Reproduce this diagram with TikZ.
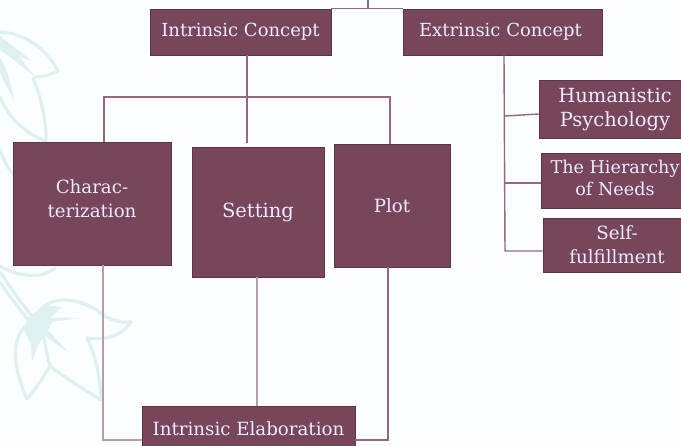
\documentclass[tikz,border=0pt]{standalone}
\usepackage{fontspec}
\setmainfont{DejaVu Serif}
\definecolor{boxfill}{HTML}{78465A}
\definecolor{boxedge}{HTML}{5E3347}
\definecolor{linkc}{HTML}{94697D}
\definecolor{softlink}{HTML}{B79DAB}
\definecolor{leafc}{HTML}{DFF0F1}
\definecolor{paper}{HTML}{FBFEFF}
\tikzset{
  box/.style={fill=boxfill,draw=boxedge,line width=0.6pt,text=white!92!blue,align=center,inner sep=0pt},
  fa/.style={font=\fontsize{18}{23}\selectfont},
  fb/.style={font=\fontsize{19.5}{24}\selectfont},
  fc/.style={font=\fontsize{18.2}{24}\selectfont},
  fd/.style={font=\fontsize{17.6}{22}\selectfont},
  link/.style={draw=linkc,line width=1.4pt},
  softl/.style={draw=softlink,line width=1.6pt},
  leaf/.style={draw=leafc,line width=3.2pt,line join=round,line cap=round},
  wedge/.style={fill=leafc,draw=none}
}
\newcommand{\liftby}[1]{\rule[-#1]{0pt}{0pt}}
\begin{document}
\begin{tikzpicture}[x=1pt,y=-1pt]
\useasboundingbox (0,0) rectangle (681,446);
\fill[paper] (0,0) rectangle (681,446);
% upper leaf
\draw[leaf] (0,32) .. controls (25,33) and (48,50) .. (58,71) .. controls (50,75) and (42,77) .. (35,77);
\draw[leaf] (33,78) .. controls (42,100) and (47,125) .. (46,142);
\draw[leaf] (0,97) .. controls (8,118) and (28,135) .. (46,141);
\fill[wedge] (0,36) .. controls (10,45) and (20,50) .. (31,61) .. controls (25,58) and (23,58) .. (19,56) .. controls (23,62) and (30,70) .. (35,77) .. controls (20,65) and (8,55) .. (0,50) -- cycle;
\fill[wedge] (0,58) .. controls (5,65) and (8,72) .. (14,99) .. controls (8,90) and (3,80) .. (0,73) -- cycle;
% sprig between the leaves
\draw[leaf] (0,150) .. controls (4,160) and (8,170) .. (14,174);
\draw[leaf] (0,266) .. controls (15,276) and (42,280) .. (55,268);
\draw[leaf] (0,272) .. controls (12,290) and (25,308) .. (35,320);
\draw[leaf] (0,282) .. controls (10,297) and (20,310) .. (30,322);
% lower leaves
\draw[leaf] (34,320) .. controls (42,300) and (65,292) .. (97,310) .. controls (107,320) and (120,323) .. (131,322) .. controls (122,335) and (108,341) .. (87,338);
\draw[leaf] (87,338) .. controls (97,358) and (101,385) .. (101,400);
\draw[leaf] (101,400) .. controls (85,390) and (65,378) .. (50,366) .. controls (45,350) and (46,335) .. (36,320);
\draw[leaf] (30,322) .. controls (12,335) and (10,360) .. (27,399) .. controls (35,390) and (45,375) .. (50,366);
\fill[wedge] (28,318) -- (45,305) -- (62,307) -- (50,318) -- (80,318) -- (52,322) -- (48,330) -- (68,352) -- (45,336) -- (38,345) -- (32,362) -- (31,345) -- (24,330) -- cycle;
% nodes (those at the picture's edge run past it and are cut off, as in the reference)
\node[box,fa,minimum width=181pt,minimum height=46pt] (ic) at (240.5,32) {Intrinsic Concept};
\node[box,fa,minimum width=198.5pt,minimum height=46pt] (ec) at (503,32) {Extrinsic Concept\hspace{5pt}};
\node[box,fc,minimum width=158pt,minimum height=123pt] (ch) at (92,203.5) {Charac-\\terization\liftby{9pt}};
\node[box,fb,minimum width=132pt,minimum height=130pt] (se) at (258,212) {Setting};
\node[box,fc,minimum width=116pt,minimum height=123pt] (pl) at (392,205.5) {Plot};
\node[box,fb,minimum width=152pt,minimum height=58pt] (hu) at (615,109) {Humanistic\\Psychology};
\node[box,fd,minimum width=148pt,minimum height=55pt] (hi) at (615,180.5) {The Hierarchy\\of Needs\liftby{5pt}};
\node[box,fc,minimum width=148pt,minimum height=54pt] (sf) at (617,245) {Self-\\fulfillment};
\node[box,fc,minimum width=213pt,minimum height=46pt] (ie) at (248.5,429) {Intrinsic Elaboration};
% junction / free-end coordinates
\coordinate (topend) at (368,0);
\coordinate (topj) at (368,9);
\coordinate (barj) at (247,97);
\coordinate (setend) at (247,143);
\coordinate (ej) at (505,251);
% connectors
\draw[link] (topend) -- (topj);
\draw[link] (ic.north east) -- (ec.north west);
\draw[link] (ic.south -| barj) -- (setend);
\draw[link] (ch.north -| 104,0) |- (barj) -| (pl.north -| 390,0);
\draw[softl] (ch.south -| 103,0) |- (ie.west |- 0,440);
\draw[softl] (se.south -| 257,0) -- (ie.north -| 257,0);
\draw[link] (pl.south -| 388,0) |- (ie.east |- 0,440);
\draw[link] (ec.south -| 504,0) -- (ej) -- (sf.west |- ej);
\draw[link] (505,116) -- (hu.west |- 0,114);
\draw[link] (505,183) -- (hi.west |- 0,183);
\end{tikzpicture}
\end{document}
